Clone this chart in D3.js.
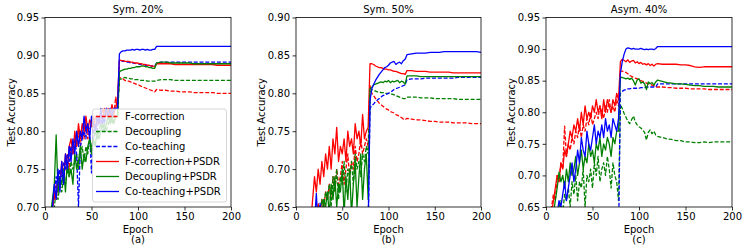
<!DOCTYPE html>
<html>
<head>
<title>Test Accuracy vs Epoch</title>
<script src="https://d3js.org/d3.v7.min.js"></script>
<style>
body { margin: 0; background: #fff; }
text { font-family: "DejaVu Sans", sans-serif; }
</style>
</head>
<body>
<script>

// x values (epochs) shared by every series
var epochs = [0,2,4,6,8,10,12,14,16,18,20,22,24,26,28,30,32,34,36,38,
  40,42,44,46,48,50,52,54,56,58,60,62,64,66,68,70,72,74,76,78,
  80,82,84,86,88,90,92,94,96,98,100,102,104,106,108,110,112,114,116,118,120,
  125,130,135,140,145,150,155,160,165,170,175,180,185,190,195,200];

var xTicks = [0, 50, 100, 150, 200];
var names = ["F-correction", "Decoupling", "Co-teaching",
  "F-correction+PSDR", "Decoupling+PSDR", "Co-teaching+PSDR"];

// ---- Sym. 20% ----
var s20_fc = [0.58,0.62,0.66,0.69,0.70,0.71,0.73,0.72,0.74,0.75,
  0.73,0.76,0.77,0.75,0.78,0.77,0.79,0.78,0.80,0.78,
  0.80,0.79,0.81,0.79,0.80,0.81,0.80,0.82,0.81,0.82,
  0.81,0.83,0.82,0.82,0.83,0.82,0.83,0.82,0.845,0.83,
  0.871,0.870,0.869,0.867,0.866,0.866,0.865,0.864,0.863,0.862,0.862,0.860,0.859,0.858,0.857,0.856,0.855,0.854,0.853,0.852,0.855,
  0.854,0.854,0.853,0.853,0.852,0.852,0.852,0.851,0.851,0.851,0.851,0.851,0.850,0.850,0.850,0.850];
var s20_dc = [0.56,0.60,0.64,0.67,0.69,0.70,0.72,0.71,0.73,0.72,
  0.74,0.73,0.75,0.74,0.76,0.75,0.76,0.77,0.75,0.77,
  0.78,0.76,0.78,0.77,0.79,0.78,0.79,0.80,0.79,0.80,
  0.81,0.80,0.81,0.80,0.81,0.82,0.81,0.82,0.82,0.82,
  0.868,0.869,0.870,0.871,0.870,0.870,0.869,0.869,0.868,0.868,0.868,0.867,0.867,0.867,0.867,0.866,0.866,0.866,0.866,0.866,0.867,
  0.868,0.868,0.868,0.867,0.867,0.867,0.867,0.867,0.867,0.867,0.867,0.867,0.867,0.867,0.867,0.867];
var s20_ct = [0.57,0.61,0.65,0.68,0.70,0.72,0.74,0.72,0.75,0.74,
  0.76,0.75,0.77,0.76,0.78,0.77,0.79,0.77,0.70,0.78,
  0.79,0.80,0.79,0.81,0.80,0.745,0.80,0.81,0.80,0.82,
  0.81,0.82,0.81,0.83,0.82,0.83,0.82,0.83,0.83,0.83,
  0.893,0.893,0.892,0.892,0.891,0.891,0.890,0.890,0.890,0.889,0.889,0.888,0.888,0.888,0.887,0.887,0.887,0.886,0.886,0.886,0.890,
  0.891,0.891,0.891,0.891,0.891,0.891,0.891,0.891,0.891,0.891,0.891,0.891,0.891,0.891,0.891,0.891];
var s20_fcp = [0.55,0.60,0.64,0.68,0.70,0.72,0.71,0.74,0.73,0.76,
  0.74,0.77,0.75,0.78,0.79,0.77,0.80,0.78,0.81,0.79,
  0.81,0.80,0.82,0.80,0.815,0.81,0.82,0.80,0.815,0.81,
  0.825,0.815,0.83,0.82,0.83,0.82,0.835,0.825,0.83,0.845,
  0.894,0.893,0.893,0.892,0.892,0.892,0.891,0.891,0.890,0.890,0.890,0.889,0.889,0.888,0.888,0.887,0.887,0.886,0.886,0.885,0.889,
  0.889,0.889,0.889,0.888,0.888,0.888,0.888,0.888,0.888,0.888,0.888,0.888,0.887,0.887,0.887,0.887];
var s20_dcp = [0.58,0.62,0.66,0.69,0.71,0.73,0.795,0.72,0.74,0.73,
  0.75,0.72,0.76,0.74,0.75,0.73,0.77,0.75,0.76,0.78,
  0.75,0.77,0.76,0.78,0.79,0.77,0.79,0.78,0.80,0.79,
  0.80,0.81,0.80,0.81,0.82,0.81,0.82,0.81,0.82,0.82,
  0.878,0.880,0.881,0.882,0.882,0.883,0.883,0.884,0.884,0.885,0.885,0.885,0.886,0.886,0.885,0.885,0.884,0.884,0.883,0.883,0.890,
  0.891,0.891,0.890,0.890,0.890,0.890,0.890,0.889,0.889,0.889,0.889,0.889,0.889,0.889,0.889,0.889];
var s20_ctp = [0.56,0.61,0.65,0.68,0.70,0.73,0.71,0.75,0.72,0.76,
  0.73,0.77,0.75,0.78,0.76,0.79,0.77,0.80,0.78,0.80,
  0.79,0.82,0.80,0.81,0.79,0.82,0.81,0.80,0.82,0.81,
  0.83,0.81,0.82,0.83,0.82,0.83,0.82,0.83,0.83,0.83,
  0.902,0.905,0.906,0.906,0.907,0.907,0.907,0.908,0.907,0.908,0.908,0.907,0.908,0.908,0.907,0.908,0.907,0.907,0.908,0.908,0.912,
  0.912,0.912,0.912,0.912,0.912,0.912,0.912,0.912,0.912,0.912,0.912,0.912,0.912,0.912,0.912,0.912];

// ---- Sym. 50% ----
var s50_fc = [0.55,0.57,0.58,0.59,0.60,0.61,0.61,0.62,0.62,0.63,
  0.63,0.64,0.655,0.64,0.66,0.65,0.67,0.66,0.68,0.66,
  0.69,0.67,0.70,0.68,0.69,0.71,0.68,0.70,0.72,0.69,
  0.71,0.70,0.73,0.71,0.72,0.74,0.72,0.73,0.74,0.73,
  0.810,0.800,0.797,0.793,0.790,0.787,0.785,0.783,0.781,0.779,0.778,0.776,0.775,0.774,0.772,0.771,0.769,0.768,0.766,0.765,0.767,
  0.766,0.765,0.765,0.764,0.763,0.763,0.762,0.762,0.762,0.761,0.761,0.761,0.761,0.760,0.760,0.760];
var s50_dc = [0.55,0.56,0.57,0.58,0.59,0.60,0.60,0.61,0.62,0.62,
  0.63,0.63,0.64,0.64,0.66,0.65,0.67,0.66,0.68,0.65,
  0.69,0.67,0.70,0.66,0.69,0.68,0.71,0.67,0.70,0.69,
  0.71,0.68,0.72,0.70,0.71,0.69,0.72,0.71,0.73,0.72,
  0.800,0.805,0.804,0.803,0.802,0.802,0.801,0.801,0.800,0.800,0.800,0.799,0.799,0.798,0.797,0.796,0.795,0.794,0.793,0.793,0.795,
  0.795,0.795,0.794,0.794,0.794,0.793,0.793,0.793,0.793,0.793,0.792,0.792,0.792,0.792,0.792,0.792];
var s50_ct = [0.55,0.56,0.57,0.58,0.59,0.60,0.60,0.61,0.62,0.62,
  0.63,0.63,0.64,0.655,0.63,0.62,0.62,0.62,0.62,0.62,
  0.62,0.62,0.62,0.62,0.62,0.62,0.62,0.62,0.62,0.62,
  0.62,0.62,0.62,0.62,0.62,0.62,0.62,0.62,0.62,0.62,
  0.780,0.784,0.786,0.789,0.791,0.793,0.795,0.797,0.798,0.799,0.800,0.802,0.803,0.805,0.806,0.807,0.808,0.809,0.810,0.811,0.818,
  0.819,0.819,0.819,0.820,0.820,0.820,0.820,0.820,0.820,0.820,0.821,0.821,0.821,0.821,0.821,0.821];
var s50_fcp = [0.55,0.56,0.57,0.58,0.59,0.60,0.61,0.62,0.63,0.66,
  0.69,0.67,0.70,0.68,0.71,0.69,0.72,0.70,0.73,0.70,
  0.74,0.72,0.755,0.71,0.73,0.72,0.74,0.71,0.75,0.73,
  0.74,0.72,0.76,0.74,0.75,0.73,0.772,0.74,0.75,0.755,
  0.839,0.839,0.838,0.836,0.835,0.834,0.834,0.833,0.832,0.832,0.831,0.831,0.830,0.829,0.829,0.828,0.827,0.826,0.826,0.825,0.830,
  0.830,0.829,0.829,0.829,0.828,0.828,0.828,0.828,0.828,0.827,0.827,0.827,0.827,0.827,0.827,0.827];
var s50_dcp = [0.55,0.56,0.57,0.58,0.59,0.60,0.60,0.61,0.62,0.62,
  0.63,0.63,0.64,0.64,0.64,0.66,0.65,0.67,0.64,0.68,
  0.66,0.69,0.65,0.68,0.67,0.70,0.64,0.69,0.66,0.70,
  0.64,0.68,0.71,0.65,0.69,0.72,0.66,0.70,0.72,0.66,
  0.806,0.808,0.811,0.812,0.813,0.814,0.815,0.814,0.816,0.815,0.817,0.814,0.816,0.815,0.816,0.817,0.814,0.816,0.815,0.812,0.823,
  0.823,0.823,0.822,0.822,0.822,0.822,0.822,0.822,0.822,0.822,0.822,0.822,0.822,0.822,0.822,0.822];
var s50_ctp = [0.55,0.56,0.57,0.58,0.59,0.60,0.60,0.61,0.62,0.62,
  0.63,0.668,0.62,0.62,0.62,0.62,0.62,0.62,0.62,0.62,
  0.62,0.62,0.62,0.62,0.62,0.62,0.62,0.62,0.62,0.62,
  0.62,0.62,0.62,0.62,0.62,0.62,0.62,0.62,0.62,0.62,
  0.790,0.806,0.812,0.817,0.821,0.825,0.828,0.831,0.834,0.835,0.837,0.840,0.841,0.842,0.838,0.840,0.841,0.839,0.843,0.845,0.851,
  0.852,0.853,0.853,0.853,0.854,0.854,0.854,0.855,0.855,0.855,0.855,0.855,0.855,0.855,0.855,0.854];

// ---- Asym. 40% ----
var a40_fc = [0.60,0.62,0.64,0.65,0.67,0.66,0.70,0.69,0.72,0.71,
  0.778,0.73,0.75,0.74,0.76,0.75,0.77,0.76,0.78,0.76,
  0.78,0.77,0.79,0.78,0.80,0.78,0.79,0.80,0.79,0.81,
  0.80,0.79,0.81,0.80,0.82,0.80,0.81,0.80,0.82,0.81,
  0.865,0.865,0.864,0.863,0.861,0.858,0.857,0.855,0.854,0.853,0.852,0.850,0.849,0.848,0.846,0.845,0.844,0.843,0.842,0.840,0.840,
  0.840,0.839,0.839,0.838,0.838,0.838,0.837,0.837,0.837,0.837,0.836,0.836,0.836,0.836,0.836,0.836];
var a40_dc = [0.58,0.59,0.60,0.61,0.62,0.63,0.64,0.65,0.66,0.64,
  0.67,0.66,0.68,0.65,0.69,0.67,0.70,0.66,0.69,0.68,
  0.71,0.65,0.70,0.69,0.71,0.68,0.72,0.70,0.73,0.69,
  0.71,0.72,0.70,0.73,0.71,0.68,0.72,0.70,0.69,0.66,
  0.812,0.806,0.798,0.792,0.786,0.782,0.788,0.794,0.785,0.780,0.777,0.775,0.772,0.768,0.756,0.768,0.772,0.766,0.770,0.764,0.762,
  0.760,0.758,0.757,0.755,0.755,0.753,0.753,0.752,0.752,0.753,0.752,0.753,0.753,0.753,0.753,0.753];
var a40_ct = [0.60,0.60,0.60,0.60,0.60,0.60,0.60,0.60,0.60,0.60,
  0.60,0.60,0.60,0.60,0.60,0.60,0.60,0.60,0.60,0.60,
  0.60,0.60,0.60,0.60,0.60,0.60,0.60,0.60,0.60,0.60,
  0.60,0.60,0.60,0.60,0.60,0.60,0.60,0.60,0.60,0.60,
  0.830,0.833,0.835,0.836,0.837,0.837,0.838,0.838,0.838,0.838,0.838,0.839,0.839,0.839,0.840,0.840,0.840,0.840,0.840,0.840,0.845,
  0.845,0.845,0.845,0.845,0.845,0.845,0.845,0.845,0.845,0.845,0.845,0.845,0.845,0.845,0.845,0.845];
var a40_fcp = [0.58,0.60,0.62,0.64,0.66,0.68,0.70,0.69,0.72,0.71,
  0.74,0.73,0.75,0.77,0.76,0.78,0.77,0.79,0.77,0.80,
  0.78,0.81,0.79,0.80,0.79,0.81,0.80,0.82,0.80,0.81,
  0.79,0.82,0.80,0.82,0.81,0.80,0.82,0.81,0.83,0.82,
  0.880,0.884,0.882,0.880,0.883,0.879,0.881,0.882,0.878,0.880,0.877,0.879,0.876,0.877,0.875,0.877,0.874,0.876,0.873,0.876,0.877,
  0.876,0.876,0.876,0.876,0.875,0.875,0.874,0.872,0.871,0.872,0.872,0.872,0.872,0.872,0.872,0.872];
var a40_dcp = [0.57,0.59,0.61,0.63,0.64,0.66,0.68,0.705,0.69,0.70,
  0.68,0.71,0.69,0.72,0.70,0.71,0.73,0.70,0.72,0.74,
  0.71,0.73,0.72,0.75,0.73,0.74,0.72,0.75,0.74,0.76,
  0.73,0.75,0.74,0.76,0.75,0.73,0.76,0.75,0.77,0.77,
  0.855,0.855,0.854,0.853,0.854,0.852,0.854,0.850,0.843,0.851,0.853,0.846,0.848,0.845,0.836,0.848,0.845,0.847,0.843,0.848,0.851,
  0.849,0.847,0.846,0.845,0.845,0.844,0.843,0.842,0.842,0.841,0.841,0.841,0.840,0.840,0.840,0.840];
var a40_ctp = [0.57,0.58,0.59,0.60,0.62,0.63,0.64,0.66,0.65,0.67,
  0.69,0.66,0.68,0.70,0.72,0.69,0.71,0.74,0.72,0.76,
  0.74,0.73,0.77,0.75,0.74,0.76,0.78,0.75,0.77,0.76,
  0.78,0.76,0.79,0.77,0.78,0.76,0.79,0.78,0.77,0.79,
  0.862,0.880,0.892,0.900,0.902,0.901,0.900,0.901,0.900,0.900,0.900,0.901,0.900,0.899,0.900,0.899,0.900,0.900,0.899,0.901,0.904,
  0.904,0.904,0.904,0.904,0.904,0.904,0.904,0.904,0.904,0.904,0.904,0.904,0.904,0.904,0.904,0.904];

var colors = ["#ff0000", "#008000", "#0000ff", "#ff0000", "#008000", "#0000ff"];
var dashed = [true, true, true, false, false, false];

var panels = [
  { title: "Sym. 20%", sub: "(a)", left: 45, right: 231, ylab: 14.5,
    yDomain: [0.70, 0.95], yTicks: [0.70, 0.75, 0.80, 0.85, 0.90, 0.95],
    series: [s20_fc, s20_dc, s20_ct, s20_fcp, s20_dcp, s20_ctp], legend: true },
  { title: "Sym. 50%", sub: "(b)", left: 296, right: 481, ylab: 264.5,
    yDomain: [0.65, 0.90], yTicks: [0.65, 0.70, 0.75, 0.80, 0.85, 0.90],
    series: [s50_fc, s50_dc, s50_ct, s50_fcp, s50_dcp, s50_ctp] },
  { title: "Asym. 40%", sub: "(c)", left: 546, right: 732, ylab: 514.5,
    yDomain: [0.65, 0.95], yTicks: [0.65, 0.70, 0.75, 0.80, 0.85, 0.90, 0.95],
    series: [a40_fc, a40_dc, a40_ct, a40_fcp, a40_dcp, a40_ctp] }
];

var plotTop = 17.5, plotBottom = 207;

var svg = d3.select("body").append("svg")
  .attr("width", 747)
  .attr("height", 251);

panels.forEach(function(p, pi) {
  var x = d3.scaleLinear().domain([0, 200]).range([p.left, p.right]);
  var y = d3.scaleLinear().domain(p.yDomain).range([plotBottom, plotTop]);

  svg.append("clipPath").attr("id", "clip" + pi)
    .append("rect")
    .attr("x", p.left).attr("y", plotTop)
    .attr("width", p.right - p.left).attr("height", plotBottom - plotTop);

  var g = svg.append("g");
  var lines = g.append("g").attr("clip-path", "url(#clip" + pi + ")");

  var line = d3.line()
    .x(function(d) { return x(d[0]); })
    .y(function(d) { return y(d[1]); });

  p.series.forEach(function(vals, si) {
    var pts = epochs.map(function(e, i) { return [e, vals[i]]; });
    lines.append("path")
      .attr("d", line(pts))
      .attr("fill", "none")
      .attr("stroke", colors[si])
      .attr("stroke-width", 1.3)
      .attr("stroke-linejoin", "round")
      .attr("stroke-dasharray", dashed[si] ? "4,1.8" : null);
  });

  // axes
  var xa = g.append("g").attr("transform", "translate(0," + plotBottom + ")")
    .call(d3.axisBottom(x).tickValues(xTicks).tickSize(3.5).tickSizeOuter(0).tickPadding(2));
  var ya = g.append("g").attr("transform", "translate(" + p.left + ",0)")
    .call(d3.axisLeft(y).tickValues(p.yTicks).tickSize(3.5).tickSizeOuter(0).tickPadding(2.5)
      .tickFormat(d3.format(".2f")));
  [xa, ya].forEach(function(a) {
    a.select(".domain").remove();
    a.selectAll("text").attr("font-size", 10).attr("fill", "#000")
      .style("font-family", "DejaVu Sans");
    a.selectAll("line").attr("stroke", "#000").attr("stroke-width", 0.8);
  });

  g.append("rect")
    .attr("x", p.left).attr("y", plotTop)
    .attr("width", p.right - p.left).attr("height", plotBottom - plotTop)
    .attr("fill", "none").attr("stroke", "#000").attr("stroke-width", 0.8);

  var cx = (p.left + p.right) / 2;
  g.append("text").attr("x", cx).attr("y", 12.5)
    .attr("text-anchor", "middle").attr("font-size", 10).text(p.title);
  g.append("text").attr("x", cx).attr("y", 232.5)
    .attr("text-anchor", "middle").attr("font-size", 10).text("Epoch");
  g.append("text").attr("x", cx).attr("y", 242.5)
    .attr("text-anchor", "middle").attr("font-size", 10).text(p.sub);
  g.append("text")
    .attr("transform", "translate(" + p.ylab + "," + ((plotTop + plotBottom) / 2) + ") rotate(-90)")
    .attr("text-anchor", "middle").attr("font-size", 10).text("Test Accuracy");

  if (p.legend) {
    var lg = g.append("g");
    lg.append("rect")
      .attr("x", 92.5).attr("y", 109).attr("width", 134).attr("height", 93)
      .attr("rx", 2.5)
      .attr("fill", "#fff").attr("fill-opacity", 0.8)
      .attr("stroke", "#cccccc").attr("stroke-width", 0.8);
    names.forEach(function(n, i) {
      var yy = 116.5 + i * 15;
      lg.append("line")
        .attr("x1", 96).attr("x2", 119).attr("y1", yy).attr("y2", yy)
        .attr("stroke", colors[i]).attr("stroke-width", 1.3)
        .attr("stroke-dasharray", dashed[i] ? "4,1.8" : null);
      lg.append("text").attr("x", 125).attr("y", yy + 3.6)
        .attr("font-size", 10).text(n);
    });
  }
});

</script>
</body>
</html>
